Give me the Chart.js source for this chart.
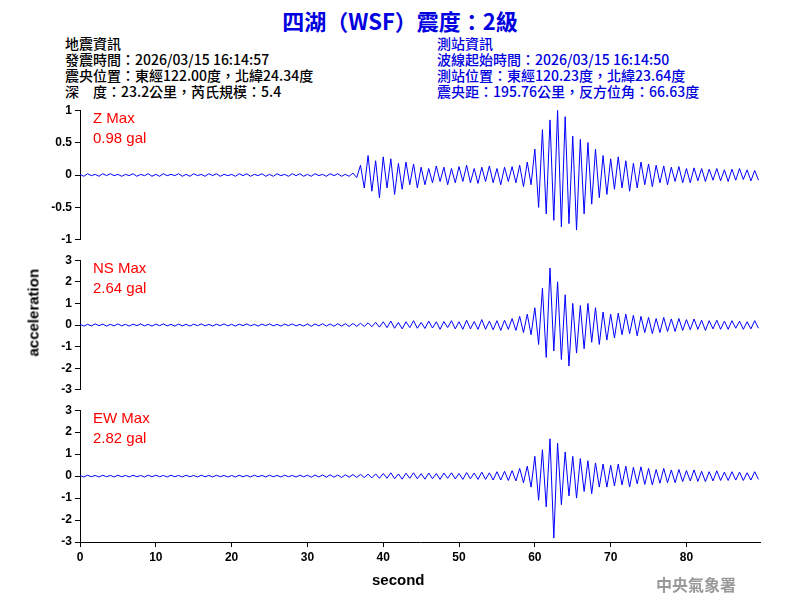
<!DOCTYPE html>
<html><head><meta charset="utf-8">
<script src="https://cdn.jsdelivr.net/npm/chart.js@4"></script>
<style>
body{margin:0;width:800px;height:600px;background:#fff;position:relative;overflow:hidden;font-family:"Liberation Sans",Arial,sans-serif}
.box{position:absolute;left:0;width:800px}
.t{position:absolute;white-space:nowrap}
.hd{font-family:"Noto Sans CJK TC","Liberation Sans",sans-serif;font-size:14px;line-height:16px;font-weight:500}
.mx{color:#f00;font-size:15px;line-height:20px}
</style></head><body>
<div class="t" style="left:0;width:800px;text-align:center;top:4px;font-size:22px;font-weight:bold;color:#0000e0;font-family:'Noto Sans CJK TC','Liberation Sans',sans-serif">四湖（WSF）震度：2級</div>
<div class="t hd" style="left:65px;top:35px;color:#000">地震資訊<br>發震時間：2026/03/15 16:14:57<br>震央位置：東經122.00度，北緯24.34度<br>深　度：23.2公里，芮氏規模：5.4</div>
<div class="t hd" style="left:437px;top:35px;color:#0000e0">測站資訊<br>波線起始時間：2026/03/15 16:14:50<br>測站位置：東經120.23度，北緯23.64度<br>震央距：195.76公里，反方位角：66.63度</div>
<div class="box" style="top:100px;height:150px"><canvas id="cz"></canvas></div>
<div class="box" style="top:250px;height:150px"><canvas id="cn"></canvas></div>
<div class="box" style="top:400px;height:200px"><canvas id="ce"></canvas></div>
<div class="t mx" style="left:93px;top:108px">Z Max<br>0.98 gal</div>
<div class="t mx" style="left:93px;top:258px">NS Max<br>2.64 gal</div>
<div class="t mx" style="left:93px;top:408px">EW Max<br>2.82 gal</div>
<div class="t" style="left:20px;top:303px;transform:rotate(-90deg);transform-origin:center;width:90px;margin-left:-32px;font-size:15px;font-weight:bold">acceleration</div>
<div class="t" style="left:372px;top:571px;font-size:15px;font-weight:bold">second</div>
<div class="t" style="left:656px;top:572px;font-size:16px;font-weight:bold;color:#999;font-family:'Noto Sans CJK TC',serif">中央氣象署</div>
<script>
const dt = 0.5;
const zData = [0.01,-0.02,0.02,-0.01,0.01,-0.02,0.02,-0.01,0.02,-0.01,0.01,-0.02,0.01,-0.01,0.02,-0.02,0.01,-0.01,0.02,-0.02,
0.01,-0.02,0.02,-0.01,0.01,-0.01,0.02,-0.02,0.01,-0.02,0.02,-0.01,0.01,-0.02,0.02,-0.01,0.02,-0.02,0.01,-0.01,
0.01,-0.02,0.02,-0.01,0.02,-0.02,0.01,-0.01,0.02,-0.02,0.01,-0.02,0.02,-0.01,0.01,-0.02,0.02,-0.01,0.02,-0.02,
0.01,-0.02,0.02,-0.01,0.01,-0.02,0.02,-0.01,0.02,-0.02,0.01,-0.02,0.03,-0.04,
0.15,-0.2,0.3,-0.25,0.22,-0.35,0.28,-0.2,0.25,-0.3,0.18,-0.22,0.2,-0.15,0.17,-0.2,
0.12,-0.15,0.1,-0.12,0.14,-0.1,0.12,-0.15,0.1,-0.12,0.13,-0.1,0.15,-0.12,0.1,-0.13,0.12,-0.1,0.14,-0.12,0.1,-0.15,0.12,-0.1,0.13,-0.12,0.15,-0.18,0.2,-0.15,
0.4,-0.5,0.7,-0.6,0.85,-0.7,1.0,-0.8,0.9,-0.75,0.6,-0.85,0.55,-0.6,0.5,-0.45,0.4,-0.35,0.3,-0.3,
0.25,-0.22,0.28,-0.2,0.22,-0.25,0.18,-0.2,0.2,-0.15,0.17,-0.18,0.15,-0.12,0.14,-0.15,0.12,-0.1,0.13,-0.12,
0.1,-0.12,0.11,-0.09,0.1,-0.1,0.09,-0.08,0.1,-0.09,0.08,-0.1,0.09,-0.08,0.1,-0.07,0.08,-0.09,0.07,-0.08];
const nsData = [0.04,-0.05,0.03,-0.04,0.05,-0.03,0.04,-0.05,0.03,-0.04,0.05,-0.04,0.03,-0.05,0.04,-0.03,0.05,-0.04,0.03,-0.05,
0.04,-0.03,0.05,-0.04,0.03,-0.05,0.04,-0.04,0.03,-0.05,0.04,-0.03,0.05,-0.04,0.03,-0.05,0.04,-0.03,0.05,-0.04,
0.03,-0.05,0.04,-0.03,0.05,-0.04,0.03,-0.05,0.04,-0.03,0.05,-0.04,0.03,-0.05,0.04,-0.03,0.05,-0.04,0.03,-0.05,
0.05,-0.06,0.05,-0.04,0.06,-0.05,0.05,-0.06,0.06,-0.05,0.06,-0.07,0.07,-0.06,0.08,-0.07,0.1,-0.08,0.12,-0.1,
0.15,-0.12,0.18,-0.15,0.12,-0.18,0.15,-0.12,0.2,-0.15,0.12,-0.16,0.18,-0.14,0.15,-0.2,0.16,-0.12,0.2,-0.18,
0.15,-0.2,0.22,-0.18,0.16,-0.2,0.25,-0.2,0.18,-0.22,0.2,-0.25,0.22,-0.2,0.3,-0.25,0.4,-0.35,0.5,-0.45,
0.8,-0.9,1.7,-1.5,2.64,-1.2,2.0,-1.6,1.4,-1.9,1.0,-1.3,0.9,-1.1,1.0,-0.8,0.8,-0.9,0.6,-0.7,
0.5,-0.6,0.55,-0.45,0.5,-0.4,0.45,-0.5,0.4,-0.35,0.35,-0.4,0.3,-0.35,0.35,-0.3,0.28,-0.3,0.3,-0.25,
0.25,-0.22,0.28,-0.2,0.22,-0.25,0.2,-0.18,0.22,-0.2,0.18,-0.2,0.2,-0.15,0.18,-0.2,0.15,-0.18,0.2,-0.15];
const ewData = [0.03,-0.04,0.04,-0.03,0.03,-0.04,0.04,-0.03,0.03,-0.04,0.04,-0.03,0.03,-0.04,0.04,-0.03,0.03,-0.04,0.04,-0.03,
0.04,-0.03,0.03,-0.04,0.04,-0.03,0.03,-0.04,0.04,-0.03,0.03,-0.04,0.04,-0.03,0.03,-0.04,0.04,-0.03,0.03,-0.04,
0.03,-0.04,0.04,-0.03,0.03,-0.04,0.04,-0.03,0.03,-0.04,0.04,-0.03,0.03,-0.04,0.04,-0.03,0.03,-0.04,0.04,-0.03,
0.04,-0.05,0.05,-0.04,0.05,-0.05,0.06,-0.05,0.05,-0.06,0.06,-0.05,0.07,-0.06,0.08,-0.07,0.09,-0.08,0.1,-0.1,
0.12,-0.1,0.15,-0.12,0.1,-0.14,0.13,-0.1,0.15,-0.12,0.11,-0.14,0.14,-0.12,0.12,-0.15,0.14,-0.1,0.15,-0.13,
0.12,-0.15,0.16,-0.12,0.14,-0.15,0.18,-0.15,0.15,-0.18,0.2,-0.18,0.22,-0.2,0.25,-0.22,0.35,-0.3,0.45,-0.5,
0.9,-1.1,1.2,-1.4,1.7,-2.82,1.5,-1.3,1.1,-0.9,0.9,-1.0,0.8,-0.7,0.7,-0.8,0.6,-0.5,0.55,-0.5,
0.5,-0.45,0.55,-0.4,0.45,-0.5,0.4,-0.35,0.42,-0.38,0.35,-0.4,0.3,-0.32,0.35,-0.3,0.28,-0.3,0.3,-0.25,
0.25,-0.22,0.28,-0.24,0.22,-0.25,0.2,-0.22,0.24,-0.2,0.18,-0.2,0.2,-0.18,0.18,-0.2,0.15,-0.18,0.2,-0.15];
const zTicks = [-1,-0.5,0,0.5,1];
const hTicks = [-3,-2,-1,0,1,2,3];
const xTicks = [0,10,20,30,40,50,60,70,80];

Chart.defaults.font.family = '"Liberation Sans", Arial, sans-serif';
Chart.defaults.color = '#000';

function makeChart(id, values, yTicks, showX, padBottom) {
    const pts = values.map((v, i) => ({x: i * dt, y: v}));
    const lim = yTicks[yTicks.length - 1];
    return new Chart(document.getElementById(id), {
        type: 'line',
        data: {datasets: [{data: pts, borderColor: '#0000ff', borderWidth: 1, pointRadius: 0, tension: 0}]},
        options: {
            responsive: true,
            maintainAspectRatio: false,
            animation: false,
            layout: {padding: {left: 5, right: 40, top: 8, bottom: padBottom}},
            plugins: {legend: {display: false}, tooltip: {enabled: false}},
            scales: {
                x: {
                    type: 'linear', min: 0, max: 89.7, display: showX,
                    afterFit: s => { if (showX) s.height = 58; },
                    afterBuildTicks: s => { s.ticks = xTicks.map(v => ({value: v})); },
                    grid: {drawOnChartArea: false, tickLength: 5, color: '#000'},
                    border: {color: '#000'},
                    ticks: {font: {size: 12, weight: 'bold'}, color: '#000', autoSkip: false}
                },
                y: {
                    min: -lim, max: lim,
                    afterFit: s => { s.width = 75; },
                    afterBuildTicks: s => { s.ticks = yTicks.map(v => ({value: v})); },
                    grid: {drawOnChartArea: false, tickLength: 5, color: '#000'},
                    border: {color: '#000'},
                    ticks: {font: {size: 12, weight: 'bold'}, color: '#000', padding: 3, autoSkip: false,
                        callback: v => String(v)}
                }
            }
        }
    });
}
makeChart('cz', zData, zTicks, false, 7);
makeChart('cn', nsData, hTicks, false, 8);
makeChart('ce', ewData, hTicks, true, 0);
</script>
</body></html>
